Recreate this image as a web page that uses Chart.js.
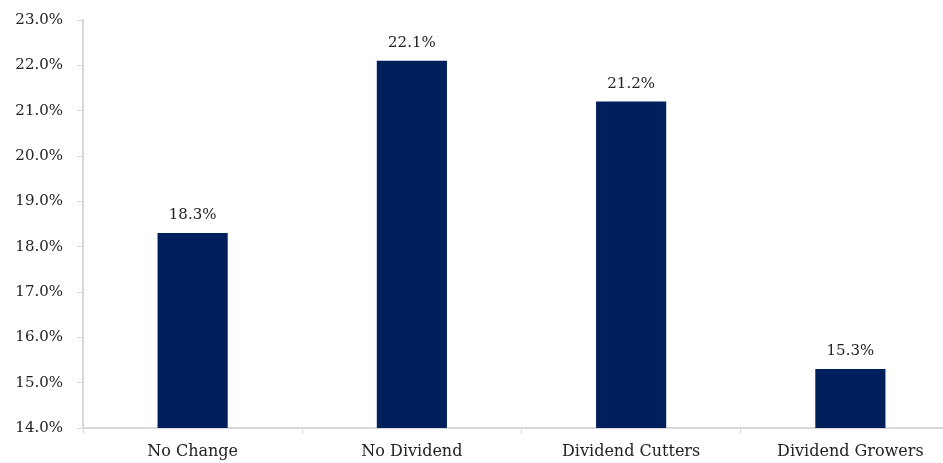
<!DOCTYPE html>
<html>
<head>
<meta charset="utf-8">
<script src="https://cdn.jsdelivr.net/npm/chart.js@4"></script>
<style>
  html, body { margin: 0; padding: 0; background: #fff; overflow: hidden; }
  #wrap { width: 960px; height: 466px; margin-top: -3px; }
</style>
</head>
<body>
<div id="wrap"><canvas id="chart" width="960" height="466"></canvas></div>
<script>
const categories = ['No Change', 'No Dividend', 'Dividend Cutters', 'Dividend Growers'];
const returns = [18.3, 22.1, 21.2, 15.3];
const yMin = 14, yMax = 23, yStep = 1;

const FONT = '"DejaVu Serif", "Liberation Serif", serif';
const TEXT = '#222';
const AXIS = '#d9d9d9';

// value labels above each bar
const barLabels = {
  id: 'barLabels',
  afterDatasetsDraw(chart) {
    const ctx = chart.ctx;
    const meta = chart.getDatasetMeta(0);
    ctx.save();
    ctx.font = '15px ' + FONT;
    ctx.fillStyle = TEXT;
    ctx.textAlign = 'center';
    ctx.textBaseline = 'bottom';
    meta.data.forEach((bar, i) => {
      ctx.fillText(returns[i].toFixed(1) + '%', bar.x, bar.y - 10);
    });
    ctx.restore();
  }
};

new Chart(document.getElementById('chart'), {
  type: 'bar',
  data: {
    labels: categories,
    datasets: [{
      data: returns,
      backgroundColor: '#001f5b',
      barPercentage: 0.32,
      categoryPercentage: 1
    }]
  },
  options: {
    responsive: false,
    animation: false,
    layout: { padding: { top: 10, left: 0, right: 0, bottom: 0 } },
    plugins: { legend: { display: false }, tooltip: { enabled: false } },
    scales: {
      x: {
        offset: true,
        grid: { display: true, offset: true, drawOnChartArea: false, color: AXIS, tickLength: 6 },
        border: { color: AXIS, width: 2 },
        ticks: { color: TEXT, font: { family: FONT, size: 16 }, padding: 8 },
        afterFit(s) { s.height = 35; }
      },
      y: {
        min: yMin, max: yMax,
        grid: { display: true, drawOnChartArea: false, color: AXIS, tickLength: 6 },
        border: { color: AXIS, width: 2 },
        ticks: {
          stepSize: yStep,
          color: TEXT,
          font: { family: FONT, size: 15 },
          padding: 14,
          callback: v => v.toFixed(1) + '%'
        },
        afterFit(s) { s.width = 83; }
      }
    }
  },
  plugins: [barLabels]
});
</script>
</body>
</html>
